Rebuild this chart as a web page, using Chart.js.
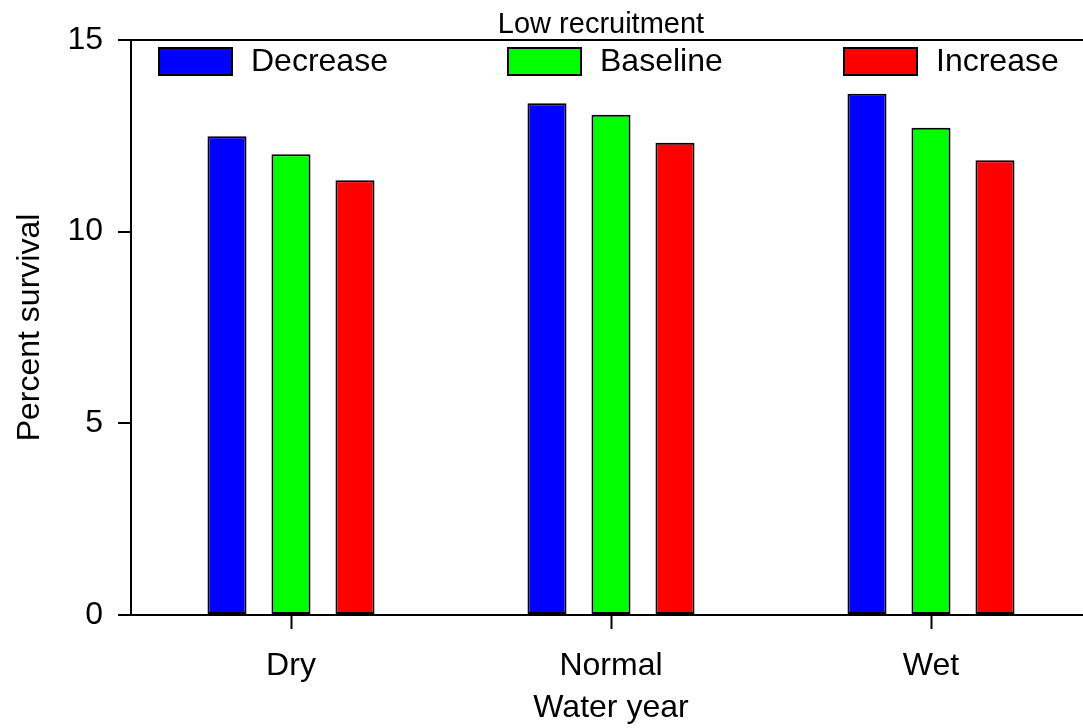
<!DOCTYPE html>
<html>
<head>
<meta charset="utf-8">
<script src="https://cdn.jsdelivr.net/npm/chart.js@4/dist/chart.umd.min.js"></script>
<style>
  html, body { margin: 0; padding: 0; background: #fff; overflow: hidden; }
  #wrap { position: relative; width: 1091px; height: 728px; }
</style>
</head>
<body>
<div id="wrap"><canvas id="c"></canvas></div>
<script>
const categories = ["Dry", "Normal", "Wet"];
const seriesNames = ["Decrease", "Baseline", "Increase"];
const decrease = [12.49, 13.35, 13.60];
const baseline = [12.02, 13.05, 12.71];
const increase = [11.34, 12.32, 11.86];
const yTicks = [0, 5, 10, 15];
const chartTitle = "Low recruitment";
const xTitle = "Water year";
const yTitle = "Percent survival";

const colors = ["#0000ff", "#00ff00", "#ff0000"];
const FONT = "'Liberation Sans', Arial, sans-serif";

const legendPlugin = {
  id: 'insideLegend',
  afterDraw(chart) {
    const ctx = chart.ctx;
    const boxX = [159, 508, 844];
    const y = 48, w = 73, h = 27;
    ctx.save();
    chart.data.datasets.forEach((ds, i) => {
      ctx.fillStyle = ds.backgroundColor;
      ctx.fillRect(boxX[i], y, w, h);
      ctx.lineWidth = 2;
      ctx.strokeStyle = '#000';
      ctx.strokeRect(boxX[i], y, w, h);
      ctx.fillStyle = '#000';
      ctx.font = "32px " + FONT;
      ctx.textAlign = 'left';
      ctx.textBaseline = 'middle';
      ctx.fillText(ds.label, boxX[i] + w + 19, y + h / 2 + 1);
    });
    ctx.font = "29px " + FONT;
    ctx.textAlign = 'center';
    ctx.textBaseline = 'alphabetic';
    ctx.fillText(chartTitle, 601, 33);
    ctx.restore();
  }
};

new Chart(document.getElementById('c'), {
  type: 'bar',
  data: {
    labels: categories,
    datasets: [decrease, baseline, increase].map((d, i) => ({
      label: seriesNames[i],
      data: d,
      backgroundColor: colors[i],
      borderColor: '#000',
      borderWidth: 2,
      borderSkipped: false,
      categoryPercentage: 0.6,
      barPercentage: 0.61
    }))
  },
  options: {
    responsive: true,
    maintainAspectRatio: false,
    animation: false,
    layout: { padding: { top: 40, left: 0, right: 0, bottom: 0 } },
    plugins: { legend: { display: false }, title: { display: false }, tooltip: { enabled: false } },
    scales: {
      x: {
        offset: true,
        afterFit(scale) { scale.height = 113; },
        border: { display: true, color: '#000', width: 2 },
        grid: { offset: false, drawOnChartArea: false, drawTicks: true, tickLength: 14, tickColor: '#000', tickWidth: 2 },
        ticks: { color: '#000', font: { family: FONT, size: 32 }, padding: 18 },
        title: { display: true, text: xTitle, color: '#000', font: { family: FONT, size: 32 }, padding: { top: 0, bottom: 1 } }
      },
      y: {
        min: 0, max: 15,
        afterFit(scale) { scale.width = 131; },
        afterBuildTicks(scale) { scale.ticks = yTicks.map(v => ({ value: v })); },
        border: { display: true, color: '#000', width: 2 },
        grid: {
          drawOnChartArea: true,
          color: (c) => (c.tick && c.tick.value === 15) ? '#000' : 'rgba(0,0,0,0)',
          lineWidth: 2,
          drawTicks: true, tickLength: 13, tickColor: '#000', tickWidth: 2
        },
        ticks: { color: '#000', font: { family: FONT, size: 32 }, padding: 15 },
        title: { display: true, text: yTitle, color: '#000', font: { family: FONT, size: 32 }, padding: { top: 11, bottom: 0 } }
      }
    }
  },
  plugins: [legendPlugin]
});
</script>
</body>
</html>
